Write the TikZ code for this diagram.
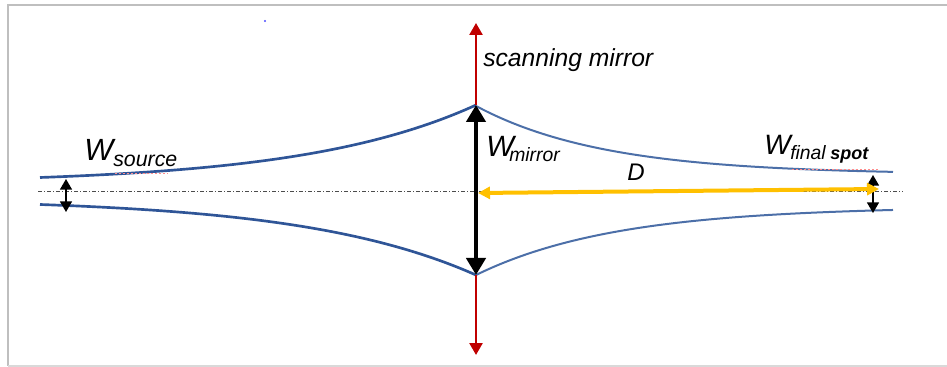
\documentclass[tikz,border=0pt]{standalone}
\usepackage{fontspec}
\setmainfont{Liberation Sans}
\usetikzlibrary{arrows.meta}
\definecolor{beamblue}{HTML}{2F5597}
\definecolor{beamblue2}{HTML}{4C6FA8}
\definecolor{mirrorred}{HTML}{C00000}
\definecolor{dgold}{HTML}{FFC000}
\definecolor{framegray}{HTML}{BFBFBF}
\definecolor{framegray2}{HTML}{D9D9D9}
\tikzset{
  beamL/.style={draw=beamblue, line width=2pt},
  beamR/.style={draw=beamblue2, line width=1.5pt},
  axisline/.style={draw=gray!60!black, line width=0.75pt, dash pattern=on 3pt off 1.5pt on 0.75pt off 1.5pt},
  mirrorarrow/.style={draw=black, line width=3.6pt, {Triangle[length=12.75pt,width=14.25pt]}-{Triangle[length=12.75pt,width=14.25pt]}},
  redarrow/.style={draw=mirrorred, line width=1.9pt, -{Triangle[length=9pt,width=9.75pt]}},
  orangearrow/.style={draw=dgold, line width=3pt, {Triangle[length=9pt,width=9pt]}-{Triangle[length=9pt,width=9pt]}},
  smallarrow/.style={draw=black, line width=1.1pt, {Triangle[length=8pt,width=9pt]}-{Triangle[length=8pt,width=9pt]}},
  marker/.style={draw=red!45, line width=0.6pt, dash pattern=on 1.5pt off 1.5pt},
  lbl/.style={inner sep=0pt, anchor=base west, font=\itshape}
}
\begin{document}
\begin{tikzpicture}[x=0.75pt,y=-0.75pt]
\useasboundingbox (0,0) rectangle (947,367);
% frame
\draw[framegray, line width=1.5pt] (947,5) -- (8,5) -- (8,366);
\draw[framegray2, line width=1.5pt] (8,366) -- (947,366);
% stray dot
\fill[blue!70] (265,21) circle (1.2);
% axis
\coordinate (axL) at (38,191.5);
\coordinate (axR) at (903,191.5);
\draw[axisline] (axL) -- (axR);
% beams
\draw[beamL] plot[domain=40:476, samples=90, smooth] (\x, {191.5 - (14 + 6.34*(exp((\x-40)/173)-1))});
\draw[beamL] plot[domain=40:476, samples=90, smooth] (\x, {191.5 + (13 + 6.17*(exp((\x-40)/173)-1))});
\draw[beamR] plot[domain=476:893, samples=90, smooth] (\x, {191.5 - (17 + 68.5*exp(-(\x-476)/128))});
\draw[beamR] plot[domain=476:893, samples=90, smooth] (\x, {191.5 + (15 + 68.5*exp(-(\x-476)/140))});
% mirror
\coordinate (mt) at (476,105);
\coordinate (mb) at (476,275);
\coordinate (rt) at (476,23);
\coordinate (rb) at (476,355);
\draw[redarrow] (mt) -- (rt);
\draw[redarrow] (mb) -- (rb);
\draw[mirrorarrow] (mb) -- (mt);
% faint marks
\draw[marker] (115,173) -- (168,173);
\draw[marker] (792,169.5) -- (878,169.5);
% distance D
\coordinate (oR) at (879,189);
\coordinate (oL) at (478,193);
% small width arrows
\coordinate (sLt) at (66,179);
\coordinate (sLb) at (66,212);
\coordinate (sRt) at (873,175);
\coordinate (sRb) at (873,213);
\draw[smallarrow] (sLt) -- (sLb);
\draw[smallarrow] (sRt) -- (sRb);
\draw[orangearrow] (oR) -- (oL);
% labels
\node[lbl, font=\itshape\fontsize{18.5}{22}\selectfont] (scan) at (483,66.5) {scanning mirror};
\node[lbl, font=\itshape\fontsize{23}{26}\selectfont] (wsW) at (84,161) {W};
\node[lbl, font=\itshape\fontsize{16}{18}\selectfont] (wsS) at (113,166.5) {source};
\node[lbl, font=\itshape\fontsize{22}{26}\selectfont] (wmW) at (486,157) {W};
\node[lbl, font=\itshape\fontsize{14.5}{17}\selectfont] (wmS) at (509,161.5) {mirror};
\node[lbl, font=\itshape\fontsize{21}{24}\selectfont] (wfW) at (764,155) {W};
\node[lbl, font=\itshape\fontsize{14.5}{17}\selectfont] (wfS) at (790,159.5) {final};
\node[lbl, font=\bfseries\itshape\fontsize{13.5}{16}\selectfont] (wfS2) at (830,159.5) {spot};
\node[lbl, font=\itshape\fontsize{18}{21}\selectfont] (dlbl) at (627,181) {D};
\end{tikzpicture}
\end{document}
